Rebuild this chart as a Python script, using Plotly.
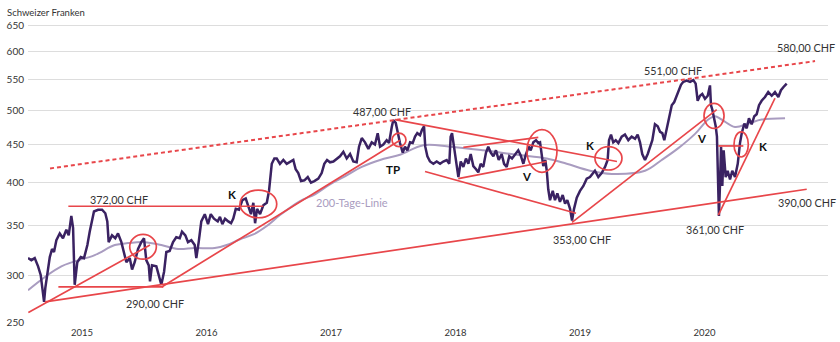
import math
import plotly.graph_objects as go

# ---------------- data (x in decimal years, y in CHF) ----------------
price_t = [
    2014.566, 2014.593, 2014.620, 2014.647, 2014.668, 2014.687, 2014.695, 2014.705, 2014.721, 2014.741,
    2014.759, 2014.775, 2014.794, 2014.821, 2014.847, 2014.874, 2014.893, 2014.914, 2014.928, 2014.941,
    2014.962, 2014.990, 2015.016, 2015.043, 2015.062, 2015.080, 2015.096, 2015.129, 2015.161, 2015.187,
    2015.203, 2015.214, 2015.241, 2015.267, 2015.289, 2015.316, 2015.337, 2015.356, 2015.383, 2015.402,
    2015.423, 2015.450, 2015.476, 2015.498, 2015.516, 2015.536, 2015.546, 2015.562, 2015.597, 2015.618,
    2015.637, 2015.659, 2015.677, 2015.704, 2015.731, 2015.757, 2015.785, 2015.803, 2015.830, 2015.851,
    2015.878, 2015.905, 2015.918, 2015.937, 2015.958, 2015.986, 2016.012, 2016.034, 2016.060, 2016.090,
    2016.108, 2016.127, 2016.149, 2016.175, 2016.197, 2016.215, 2016.235, 2016.261, 2016.288, 2016.315,
    2016.336, 2016.357, 2016.376, 2016.390, 2016.406, 2016.430, 2016.456, 2016.484, 2016.502, 2016.512,
    2016.524, 2016.545, 2016.564, 2016.590, 2016.617, 2016.644, 2016.671, 2016.697, 2016.716, 2016.737,
    2016.759, 2016.786, 2016.813, 2016.839, 2016.866, 2016.898, 2016.925, 2016.946, 2016.968, 2016.992,
    2017.019, 2017.046, 2017.072, 2017.099, 2017.126, 2017.153, 2017.179, 2017.206, 2017.225, 2017.247,
    2017.273, 2017.300, 2017.327, 2017.353, 2017.375, 2017.394, 2017.420, 2017.447, 2017.466, 2017.488,
    2017.500, 2017.520, 2017.536, 2017.554, 2017.576, 2017.594, 2017.613, 2017.635, 2017.656, 2017.675,
    2017.693, 2017.715, 2017.731, 2017.747, 2017.757, 2017.774, 2017.795, 2017.822, 2017.849, 2017.876,
    2017.902, 2017.929, 2017.950, 2017.961, 2017.972, 2017.988, 2018.004, 2018.023, 2018.042, 2018.063,
    2018.084, 2018.103, 2018.122, 2018.143, 2018.165, 2018.183, 2018.202, 2018.223, 2018.245, 2018.263,
    2018.283, 2018.304, 2018.325, 2018.347, 2018.371, 2018.390, 2018.411, 2018.432, 2018.454, 2018.478,
    2018.504, 2018.524, 2018.545, 2018.566, 2018.588, 2018.604, 2018.625, 2018.647, 2018.665, 2018.679,
    2018.692, 2018.705, 2018.721, 2018.733, 2018.745, 2018.759, 2018.781, 2018.799, 2018.818, 2018.839,
    2018.861, 2018.880, 2018.898, 2018.920, 2018.936, 2018.952, 2018.974, 2019.000, 2019.027, 2019.054,
    2019.080, 2019.107, 2019.120, 2019.147, 2019.174, 2019.201, 2019.222, 2019.233, 2019.249, 2019.267,
    2019.287, 2019.308, 2019.335, 2019.361, 2019.388, 2019.415, 2019.442, 2019.463, 2019.482, 2019.500,
    2019.522, 2019.544, 2019.562, 2019.581, 2019.602, 2019.624, 2019.643, 2019.661, 2019.677, 2019.696,
    2019.715, 2019.737, 2019.757, 2019.777, 2019.795, 2019.811, 2019.830, 2019.857, 2019.884, 2019.910,
    2019.929, 2019.945, 2019.964, 2019.982, 2020.004, 2020.026, 2020.044, 2020.052, 2020.063, 2020.079,
    2020.090, 2020.100, 2020.106, 2020.116, 2020.124, 2020.133, 2020.143, 2020.154, 2020.170, 2020.186,
    2020.205, 2020.223, 2020.245, 2020.267, 2020.285, 2020.299, 2020.320, 2020.339, 2020.357, 2020.379,
    2020.400, 2020.419, 2020.438, 2020.459, 2020.486, 2020.512, 2020.540, 2020.566, 2020.593, 2020.614,
    2020.633, 2020.660]
price_chf = [
    317, 315, 317, 309, 301, 282, 277, 289, 304, 318,
    326, 323, 335, 342, 337, 346, 340, 361, 348, 292,
    313, 318, 317, 330, 344, 358, 366, 368, 368, 364,
    355, 333, 340, 337, 342, 333, 323, 313, 317, 306,
    313, 326, 333, 337, 315, 310, 295, 310, 309, 301,
    292, 304, 323, 324, 333, 338, 337, 344, 340, 333,
    335, 330, 317, 333, 355, 363, 352, 363, 358, 355,
    360, 352, 358, 355, 353, 358, 369, 368, 379, 381,
    373, 363, 376, 353, 369, 363, 373, 376, 390, 402,
    424, 431, 431, 424, 429, 424, 426, 429, 417, 412,
    402, 403, 407, 400, 402, 405, 412, 424, 429, 426,
    427, 431, 434, 440, 431, 437, 427, 426, 447, 459,
    453, 444, 453, 450, 466, 447, 450, 456, 452, 475,
    485, 481, 466, 452, 439, 447, 442, 453, 452, 461,
    466, 463, 471, 476, 447, 434, 427, 424, 427, 424,
    427, 429, 424, 461, 466, 447, 429, 407, 427, 420,
    431, 424, 437, 421, 417, 413, 424, 420, 439, 447,
    439, 434, 442, 429, 437, 424, 420, 434, 431, 437,
    442, 435, 424, 437, 447, 442, 453, 456, 452, 453,
    437, 421, 429, 415, 392, 379, 390, 379, 387, 377,
    385, 375, 379, 369, 356, 369, 382, 390, 396, 405,
    407, 412, 415, 407, 412, 420, 429, 456, 464, 453,
    456, 452, 461, 464, 456, 461, 458, 464, 453, 437,
    429, 437, 447, 456, 479, 476, 468, 466, 456, 471,
    487, 508, 513, 523, 535, 541, 546, 548, 546, 549,
    543, 515, 523, 526, 518, 523, 540, 508, 501, 486,
    476, 461, 404, 361, 396, 447, 396, 442, 407, 415,
    404, 415, 407, 424, 452, 466, 480, 473, 488, 479,
    491, 494, 508, 515, 521, 529, 523, 529, 521, 532,
    537, 543]

ma200_t = [2014.566, 2014.834, 2015.102, 2015.263, 2015.369, 2015.504, 2015.637, 2015.771, 2015.905, 2016.066,
           2016.162, 2016.269, 2016.376, 2016.484, 2016.590, 2016.751, 2016.871, 2016.992, 2017.112, 2017.247,
           2017.394, 2017.554, 2017.741, 2017.956, 2018.223, 2018.492, 2018.733, 2018.893, 2019.080, 2019.255,
           2019.522, 2019.656, 2019.790, 2019.924, 2020.030, 2020.084, 2020.138, 2020.245, 2020.352, 2020.459,
           2020.647]
ma200_chf = [287, 309, 320, 330, 332, 333, 330, 326, 327, 327,
             330, 336, 341, 350, 362, 378, 386, 398, 408, 420,
             429, 436, 449, 447, 442, 436, 431, 424, 415, 411,
             415, 429, 445, 465, 486, 491, 486, 475, 480, 486,
             488]

# trend lines: (t0, v0, t1, v1, dashed)
trend_lines = [
    (2014.743, 418, 2020.888, 582, True),    # upper dotted resistance
    (2014.703, 277, 2020.821, 392, False),   # long support
    (2014.569, 268, 2015.546, 330, False),   # uptrend 2014/15
    (2014.890, 372, 2016.456, 372, False),   # 372 CHF horizontal
    (2014.810, 290, 2015.653, 290, False),   # 290 CHF horizontal
    (2015.640, 290, 2017.554, 456, False),   # uptrend 2016/17
    (2017.514, 486, 2019.297, 427, False),   # descending upper
    (2017.755, 414, 2018.968, 364, False),   # descending lower
    (2018.022, 405, 2018.732, 427, False),   # inner channel bottom
    (2018.063, 446, 2018.665, 460, False),   # inner channel top
    (2018.936, 354, 2020.098, 501, False),   # uptrend 2019
    (2020.111, 448, 2020.312, 448, False),   # short horizontal 2020
    (2020.111, 362, 2020.566, 519, False),   # steep uptrend 2020
]

# marker ellipses: (t0, t1, v_low, v_high)
ellipses = [
    (2015.383, 2015.597, 316, 341),
    (2016.269, 2016.564, 359, 391),
    (2017.490, 2017.602, 447, 466),
    (2018.574, 2018.815, 413, 471),
    (2019.120, 2019.337, 416, 447),
    (2019.996, 2020.157, 473, 511),
    (2020.237, 2020.352, 433, 468),
]

# text labels: (text, t, v, bold)
labels = [
    ("372,00 CHF", 2015.297, 380, False),
    ("290,00 CHF", 2015.586, 276, False),
    ("K", 2016.207, 386, True),
    ("487,00 CHF", 2017.407, 498, False),
    ("TP", 2017.500, 417, True),
    ("V", 2018.572, 407.5, True),
    ("K", 2019.080, 448, True),
    ("353,00 CHF", 2019.016, 336, False),
    ("551,00 CHF", 2019.745, 566, False),
    ("580,00 CHF", 2020.815, 606.6, False),
    ("V", 2019.978, 459, True),
    ("K", 2020.467, 447, True),
    ("361,00 CHF", 2020.084, 346.5, False),
    ("390,00 CHF", 2020.821, 376, False),
]
ma_label = ("200-Tage-Linie", 2017.166, 376)

year_ticks = [2015, 2016, 2017, 2018, 2019, 2020]
year_labels = ["2015", "2016", "2017", "2018", "2019", "2020"]
y_tick_values = [259.6, 300, 350, 400, 450, 500, 550, 600, 650]
y_tick_labels = ["250", "300", "350", "400", "450", "500", "550", "600", "650"]
y_title = "Schweizer Franken"

# ---------------- styling ----------------
PRICE_COL = "#3a2262"
MA_COL = "#a99cc0"
RED = "#e8464a"
TXT = "#333333"
FONT = "Lato"

fig = go.Figure()
fig.add_trace(go.Scatter(x=ma200_t, y=ma200_chf, mode="lines", line_shape="spline",
                         line=dict(color=MA_COL, width=2), hoverinfo="skip"))
fig.add_trace(go.Scatter(x=price_t, y=price_chf, mode="lines",
                         line=dict(color=PRICE_COL, width=2.5), hoverinfo="skip"))

for t0, v0, t1, v1, dashed in trend_lines:
    fig.add_shape(type="line", xref="x", yref="y", x0=t0, y0=v0, x1=t1, y1=v1,
                  line=dict(color=RED, width=2 if dashed else 1.7,
                            dash="4px,3px" if dashed else "solid"))
for t0, t1, vlo, vhi in ellipses:
    fig.add_shape(type="circle", xref="x", yref="y", x0=t0, x1=t1, y0=vlo, y1=vhi,
                  line=dict(color=RED, width=1.7))

for text, t, v, bold in labels:
    fig.add_annotation(x=t, y=math.log10(v), xref="x", yref="y",
                       text=f"<b>{text}</b>" if bold else text, showarrow=False,
                       font=dict(family=FONT, size=11.5 if bold else 10.8, color="#111" if bold else TXT))
fig.add_annotation(x=ma_label[1], y=math.log10(ma_label[2]), xref="x", yref="y", text=ma_label[0],
                   showarrow=False, font=dict(family=FONT, size=11, color=MA_COL))
fig.add_annotation(x=-0.029, y=1.033, xref="paper", yref="paper", text=y_title, xanchor="left",
                   yanchor="middle", showarrow=False, font=dict(family=FONT, size=9.5, color=TXT))

fig.update_layout(
    width=840, height=342, margin=dict(l=28, r=12, t=22, b=19, autoexpand=False),
    paper_bgcolor="white", plot_bgcolor="white", showlegend=False,
    xaxis=dict(range=[2014.566, 2020.992], tickvals=year_ticks, ticktext=year_labels, showgrid=False,
               zeroline=False, showline=False, ticks="", ticklabelstandoff=2, automargin=False,
               tickfont=dict(family=FONT, size=9.5, color=TXT)),
    yaxis=dict(type="log", range=[math.log10(259.5), math.log10(656.6)], tickvals=y_tick_values,
               ticktext=y_tick_labels, showgrid=True, gridcolor="#dddddd", gridwidth=1, zeroline=False,
               showline=False, ticks="", ticklabelstandoff=3, automargin=False,
               tickfont=dict(family=FONT, size=10, color=TXT)),
)
fig.write_html("out.html")
